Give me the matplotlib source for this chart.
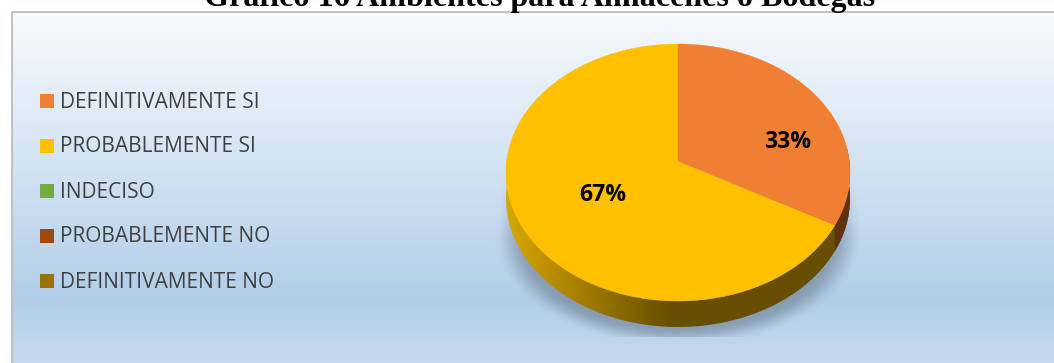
import matplotlib
matplotlib.use('Agg')
import numpy as np
import matplotlib.pyplot as plt
from matplotlib.patches import Polygon, Rectangle
from matplotlib.colors import LinearSegmentedColormap, to_rgb

W, H = 1054, 363

title = "Gráfico 16 Ambientes para Almacenes o Bodegas"
categories = ["DEFINITIVAMENTE SI", "PROBABLEMENTE SI", "INDECISO",
              "PROBABLEMENTE NO", "DEFINITIVAMENTE NO"]
values = [33, 67, 0, 0, 0]
colors = ["#F17F32", "#FFC000", "#70AD47", "#9E480E", "#997300"]
side_dark = ["#5F3312", "#674E00"]


def project(t):
    # tilted disc: t is the clockwise angle from the top, in radians
    u, v = np.sin(t), -np.cos(t)
    c = -0.0895
    d = 1 + c * v
    return 678 + 171.3 * u / d, (161 + 113.06 * v) / d


def gradient_image(ax, stops, extent, vertical=True, **kw):
    cmap = LinearSegmentedColormap.from_list("g", stops)
    data = np.linspace(0, 1, 512)
    data = data[:, None] if vertical else data[None, :]
    return ax.imshow(data, cmap=cmap, extent=extent, aspect="auto",
                     vmin=0, vmax=1, interpolation="bilinear", **kw)


fig = plt.figure(figsize=(W / 100, H / 100), dpi=100)
ax = fig.add_axes([0, 0, 1, 1])
ax.set_xlim(0, W)
ax.set_ylim(H, 0)
ax.axis("off")

# chart area background
top, bottom = 12, 363
bg = [(0.0, "#F7FAFD"), (0.31, "#DEEAF6"), (0.82, "#B1CEE8"), (1.0, "#C5DAEF")]
gradient_image(ax, bg, (12, W, bottom, top), zorder=0)
ax.plot([11.5, 11.5, W], [H, 11.5, 11.5], color="#BDBDBD", lw=1.3, zorder=1)

# soft shadow: flared sides above y=235, rounded below, cut flat at the bottom
gx, gy = np.meshgrid(np.arange(488, 870), np.arange(130, 337))
rx = np.where(gy < 235, 173 + (gy - 140).clip(0) * 0.125, 185.0)
dy = (gy - 235).clip(0) / 112.0
dist = np.sqrt(((gx - 678) / rx) ** 2 + dy ** 2)
shade = np.clip((1.0 - dist) / 0.17, 0, 1)
shade = shade * shade * (3 - 2 * shade) * np.clip((gy - 135) / 95.0, 0, 1) * 0.48
rgba = np.zeros(gx.shape + (4,))
rgba[..., :3] = to_rgb("#56677A")
rgba[..., 3] = shade
ax.imshow(rgba, extent=(488, 870, 337, 130), aspect="auto", zorder=2,
          interpolation="bilinear")
ax.set_xlim(0, W)
ax.set_ylim(H, 0)

# slice angles come from the values
fracs = np.array(values, dtype=float) / sum(values)
ends = np.cumsum(fracs) * 2 * np.pi
split = ends[0]
depth = 26

# disc side, drawn as a band between the outline and its lowered copy
ts = np.linspace(np.pi / 2 - 0.1, 3 * np.pi / 2 + 0.1, 400)
x, y = project(ts)
band = np.r_[np.c_[x, y], np.c_[x, y + depth][::-1]]
im = gradient_image(ax, [(0.0, "#D6A800"), (0.12, "#BC9000"), (0.32, "#8B6B00"),
                         (0.48, side_dark[1]), (1.0, side_dark[1])],
                    (506, 850, 0, 1), vertical=False, zorder=3)
im.set_extent((506, 850, 340, 160))
clip = Polygon(band, closed=True, transform=ax.transData, fc="none", ec="none")
ax.add_patch(clip)
im.set_clip_path(clip)

ts_o = np.linspace(np.pi / 2 - 0.1, split, 60)
x, y = project(ts_o)
ax.add_patch(Polygon(np.r_[np.c_[x, y], np.c_[x, y + depth][::-1]], closed=True,
                     fc=side_dark[0], ec="none", zorder=4))

# disc top: yellow and orange slices from the shared apex
apex = (678, 161)
ts_y = np.linspace(split, 2 * np.pi, 300)
x, y = project(ts_y)
ax.add_patch(Polygon(np.r_[[apex], np.c_[x, y]], closed=True, fc=colors[1],
                     ec=colors[1], lw=0.3, zorder=5))
ts_o = np.linspace(0, split, 150)
x, y = project(ts_o)
ax.add_patch(Polygon(np.r_[[apex], np.c_[x, y]], closed=True, fc=colors[0],
                     ec=colors[0], lw=0.3, zorder=6))

ax.text(788, 142, f"{values[0]}%", ha="center", va="center", fontsize=16.6,
        fontweight="bold", family="Open Sans", color="black", zorder=7)
ax.text(603, 195, f"{values[1]}%", ha="center", va="center", fontsize=16.6,
        fontweight="bold", family="Open Sans", color="black", zorder=7)

# legend
for i, (name, col) in enumerate(zip(categories, colors)):
    yc = 101 + i * 45
    ax.add_patch(Rectangle((40, yc - 7), 14, 14, fc=col, ec="none", zorder=7))
    ax.text(60, yc + 1, name, ha="left", va="center", fontsize=15.0,
            family="Open Sans", color="#404040", zorder=7)

# title sits on top of the page and is cut by the figure edge
ax.text(539.5, 6, title, ha="center", va="baseline", fontsize=23.1,
        fontweight="bold", family="Liberation Serif", color="black", zorder=8)

fig.savefig("out.png", dpi=100)
